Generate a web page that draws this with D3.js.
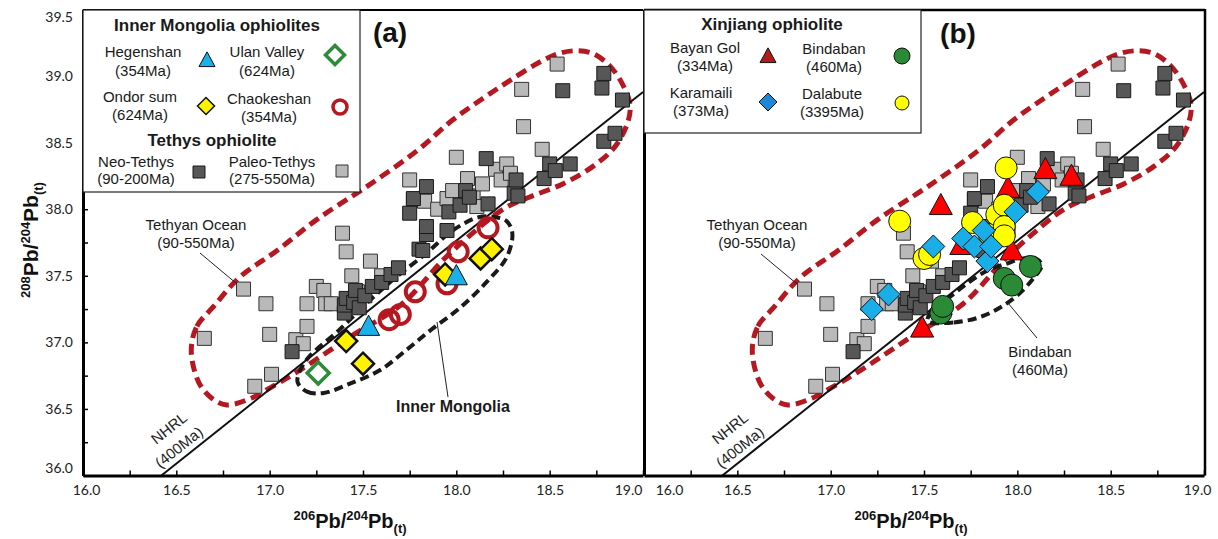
<!DOCTYPE html>
<html>
<head>
<meta charset="utf-8">
<script src="https://cdn.jsdelivr.net/npm/d3@7"></script>
<style>
  body { margin: 0; background: #fff; }
  svg { font-family: "Liberation Sans", Arial, sans-serif; }
  .tick text { font-family: Lato, "Liberation Sans", sans-serif; font-size: 14px; fill: #222; }
</style>
</head>
<body>
<svg width="1218" height="539"></svg>
<script>
// ---- Dados (206Pb/204Pb, 208Pb/204Pb)
const xTicks = [16, 16.25, 16.5, 16.75, 17, 17.25, 17.5, 17.75, 18, 18.25, 18.5, 18.75, 19];
const yTicks = [36, 36.25, 36.5, 36.75, 37, 37.25, 37.5, 37.75, 38, 38.25, 38.5, 38.75, 39, 39.25, 39.5];

const paleoTethys = [
  [16.65, 37.03], [16.86, 37.40], [16.92, 36.67], [16.98, 37.29], [17.00, 37.06], [17.01, 36.76],
  [17.14, 37.02], [17.18, 36.99], [17.20, 37.12], [17.20, 37.29], [17.25, 37.42], [17.29, 37.39],
  [17.30, 37.29], [17.33, 37.29], [17.39, 37.82], [17.41, 37.68], [17.44, 37.50], [17.47, 37.38],
  [17.54, 37.61], [17.60, 37.50], [17.75, 38.22], [17.77, 38.07], [17.83, 38.06], [17.90, 38.00],
  [17.95, 38.08], [17.98, 38.14], [18.00, 38.39], [18.06, 38.23], [18.09, 38.10], [18.11, 38.02],
  [18.14, 38.19], [18.21, 38.30], [18.24, 38.22], [18.27, 38.34], [18.29, 38.27], [18.35, 38.90],
  [18.36, 38.62], [18.46, 38.45], [18.54, 39.09]
];
const neoTethys = [
  [17.12, 36.93], [17.40, 37.22], [17.40, 37.28], [17.41, 37.33], [17.45, 37.30], [17.46, 37.39],
  [17.48, 37.26], [17.51, 37.35], [17.55, 37.42], [17.60, 37.45], [17.65, 37.51], [17.69, 37.56],
  [17.80, 37.70], [17.82, 37.69], [17.84, 37.81], [17.84, 37.87], [17.75, 37.97], [17.77, 38.08],
  [17.84, 38.17], [17.95, 37.84], [17.96, 37.98], [18.02, 38.03], [18.05, 38.14], [18.07, 38.09],
  [18.16, 38.38], [18.17, 38.04], [18.31, 38.12], [18.32, 38.22], [18.33, 38.10], [18.47, 38.23],
  [18.50, 38.34], [18.53, 38.29], [18.57, 38.89], [18.61, 38.34], [18.78, 38.91], [18.79, 38.51],
  [18.79, 39.02], [18.85, 38.57], [18.89, 38.82]
];

// Inner Mongolia
const hegenshan = [[17.53, 37.11], [18.00, 37.49]];
const ondorSum = [[17.41, 37.01], [17.50, 36.84], [17.94, 37.51], [18.13, 37.63], [18.19, 37.70]];
const ulanValley = [[17.26, 36.77]];
const chaokeshan = [[17.64, 37.17], [17.70, 37.21], [17.78, 37.38], [17.95, 37.44], [18.01, 37.68], [18.17, 37.86]];

// Xinjiang
const bayanGol = [[17.49, 37.10], [17.59, 38.02], [17.70, 37.72], [17.95, 38.15], [17.97, 37.68], [18.15, 38.29], [18.29, 38.24]];
const karamaili = [[17.22, 37.25], [17.31, 37.36], [17.55, 37.72], [17.71, 37.78], [17.77, 37.72], [17.82, 37.84],
  [17.84, 37.61], [17.86, 37.72], [17.99, 37.98], [18.11, 38.13]];
const dalabute = [[17.37, 37.91], [17.50, 37.63], [17.53, 37.66], [17.76, 37.90], [17.85, 37.81], [17.89, 37.96],
  [17.93, 38.03], [17.93, 37.87], [17.93, 37.80], [17.94, 38.31]];
const bindaban = [[17.59, 37.22], [17.60, 37.27], [17.93, 37.48], [17.97, 37.43], [18.07, 37.57]];

// Campos e linha de referência
const nhrl = [[16.42, 36.0], [19.0, 38.88]];
const tethyanField = [
  [16.58, 36.94], [16.61, 37.12], [16.70, 37.27], [16.84, 37.49], [17.04, 37.69], [17.25, 37.92],
  [17.52, 38.17], [17.79, 38.44], [17.98, 38.67], [18.14, 38.83], [18.28, 38.96], [18.44, 39.10],
  [18.55, 39.17], [18.64, 39.19], [18.73, 39.17], [18.82, 39.08], [18.89, 38.94], [18.93, 38.79],
  [18.92, 38.66], [18.85, 38.47], [18.73, 38.32], [18.57, 38.19], [18.39, 38.09], [18.25, 38.00],
  [18.07, 37.80], [17.93, 37.62], [17.71, 37.29], [17.43, 37.04], [17.16, 36.79], [16.98, 36.64],
  [16.90, 36.58], [16.77, 36.53], [16.69, 36.58], [16.62, 36.70]
];
const innerMongoliaField = [
  [17.15, 36.70], [17.20, 36.63], [17.29, 36.62], [17.43, 36.69], [17.59, 36.79], [17.73, 36.94],
  [17.87, 37.10], [18.02, 37.26], [18.16, 37.45], [18.27, 37.64], [18.30, 37.82], [18.27, 37.91],
  [18.21, 37.94], [18.12, 37.94], [17.98, 37.84], [17.84, 37.67], [17.66, 37.47], [17.54, 37.32],
  [17.37, 37.09], [17.21, 36.89], [17.16, 36.78]
];
const bindabanField = [
  [17.52, 37.16], [17.66, 37.15], [17.82, 37.20], [17.98, 37.33], [18.08, 37.47], [18.13, 37.58],
  [18.10, 37.63], [18.03, 37.63], [17.94, 37.59], [17.84, 37.54], [17.73, 37.44], [17.62, 37.32],
  [17.54, 37.23]
];

// ---- Escalas
const svg = d3.select('svg');
const y = d3.scaleLinear().domain([36, 39.5]).range([475.5, 9.5]);
const xA = d3.scaleLinear().domain([16, 19]).range([83, 643]);
const xB = d3.scaleLinear().domain([16, 19]).range([644, 1204]);

const shapes = {
  square: s => `M${-s / 2},${-s / 2}h${s}v${s}h${-s}Z`,
  triangle: s => { const h = s * 0.92; return `M0,${-h * 0.62}L${s / 2},${h * 0.38}L${-s / 2},${h * 0.38}Z`; },
  diamond: s => `M0,${-s / 2}L${s / 2},0L0,${s / 2}L${-s / 2},0Z`
};

function drawPaths(g, x, data, shape, size, fill, stroke, sw) {
  g.append('g').selectAll('path')
    .data(data)
    .join('path')
    .attr('transform', d => `translate(${x(d[0])},${y(d[1])})`)
    .attr('d', shapes[shape](size))
    .attr('fill', fill)
    .attr('stroke', stroke)
    .attr('stroke-width', sw);
}

function drawCircles(g, x, data, r, fill, stroke, sw) {
  g.append('g').selectAll('circle')
    .data(data)
    .join('circle')
    .attr('cx', d => x(d[0]))
    .attr('cy', d => y(d[1]))
    .attr('r', r)
    .attr('fill', fill)
    .attr('stroke', stroke)
    .attr('stroke-width', sw);
}

function drawField(g, x, pts, color, width, dash) {
  const line = d3.line().x(d => x(d[0])).y(d => y(d[1])).curve(d3.curveCatmullRomClosed.alpha(0.5));
  g.append('path')
    .attr('d', line(pts))
    .attr('fill', 'none')
    .attr('stroke', color)
    .attr('stroke-width', width)
    .attr('stroke-dasharray', dash);
}

const fmt = d => (Math.abs(d * 2 - Math.round(d * 2)) < 1e-6 ? d.toFixed(1) : '');

function xAxis(g, x, firstDx, lastDx) {
  const ax = g.append('g')
    .attr('transform', `translate(0, ${y(36)})`)
    .call(d3.axisBottom(x).tickValues(xTicks).tickSizeInner(-5).tickSizeOuter(0).tickPadding(10).tickFormat(fmt));
  ax.select('.domain').attr('stroke', '#000').attr('stroke-width', 3);
  ax.selectAll('.tick line').attr('stroke', '#000').attr('stroke-width', 1.5);
  ax.selectAll('.tick text').filter(d => d === 16).attr('dx', firstDx);
  ax.selectAll('.tick text').filter(d => d === 19).attr('dx', lastDx);
}

function nhrlLine(g, x) {
  g.append('line')
    .attr('x1', x(nhrl[0][0])).attr('y1', y(nhrl[0][1]))
    .attr('x2', x(nhrl[1][0])).attr('y2', y(nhrl[1][1]))
    .attr('stroke', '#111').attr('stroke-width', 2);
  const ang = Math.atan2(y(nhrl[1][1]) - y(nhrl[0][1]), x(nhrl[1][0]) - x(nhrl[0][0])) * 180 / Math.PI;
  // ponto de ancoragem sobre a linha
  const t0 = 16.543;
  const slope = (nhrl[1][1] - nhrl[0][1]) / (nhrl[1][0] - nhrl[0][0]);
  const y0 = nhrl[0][1] + (t0 - nhrl[0][0]) * slope;
  const t = g.append('g').attr('transform', `translate(${x(t0)},${y(y0)}) rotate(${ang})`);
  t.append('text').attr('x', 6).attr('y', -27).attr('text-anchor', 'middle')
    .style('font-size', '15px').attr('fill', '#222').text('NHRL');
  t.append('text').attr('x', 2).attr('y', -6).attr('text-anchor', 'middle')
    .style('font-size', '15px').attr('fill', '#222').text('(400Ma)');
}

function label(g, x, y0, lines, size, bold, lh) {
  lines.forEach((s, i) => {
    g.append('text')
      .attr('x', x).attr('y', y0 + i * lh)
      .attr('text-anchor', 'middle')
      .style('font-size', size + 'px')
      .style('font-weight', bold ? 'bold' : 'normal')
      .attr('fill', '#1a1a1a')
      .text(s);
  });
}

function leader(g, x1, y1, x2, y2) {
  g.append('line').attr('x1', x1).attr('y1', y1).attr('x2', x2).attr('y2', y2)
    .attr('stroke', '#222').attr('stroke-width', 1);
}

function axisTitle(g, tx, ty, rot, big, small, first) {
  const t = g.append('text')
    .attr('transform', `translate(${tx},${ty}) rotate(${rot})`)
    .attr('text-anchor', 'middle')
    .style('font-weight', 'bold')
    .attr('fill', '#111');
  t.append('tspan').style('font-size', small + 'px').attr('dy', -8).text(first);
  t.append('tspan').style('font-size', big + 'px').attr('dy', 8).text('Pb/');
  t.append('tspan').style('font-size', small + 'px').attr('dy', -8).text('204');
  t.append('tspan').style('font-size', big + 'px').attr('dy', 8).text('Pb');
  t.append('tspan').style('font-size', small + 'px').attr('dy', 5).text('(t)');
  return t;
}

svg.append('rect').attr('width', 1218).attr('height', 539).attr('fill', '#fff');

// ================= Painel (a)
const ga = svg.append('g');
drawField(ga, xA, tethyanField, '#b51820', 5, '11,6');
drawField(ga, xA, innerMongoliaField, '#1a1a1a', 4, '9,5');
nhrlLine(ga, xA);
drawPaths(ga, xA, paleoTethys, 'square', 14, '#b9b9b9', '#333', 1);
drawPaths(ga, xA, neoTethys, 'square', 14, '#575757', '#1a1a1a', 1);
drawCircles(ga, xA, chaokeshan, 9.5, 'none', '#b51820', 4);
drawPaths(ga, xA, ondorSum, 'diamond', 22, '#fff200', '#111', 2.5);
drawPaths(ga, xA, hegenshan, 'triangle', 22, '#1ab0ea', '#111', 1);
drawPaths(ga, xA, ulanValley, 'diamond', 22, '#fff', '#2d8a38', 3.5);

label(ga, 196, 230, ['Tethyan Ocean', '(90-550Ma)'], 15, false, 18);
leader(ga, 200, 253, 237, 284);
label(ga, 453, 412, ['Inner Mongolia'], 16, true, 18);
leader(ga, 448, 397, 437, 322);

// eixos (a)
xAxis(ga, xA, 3, -15);
const ya = ga.append('g')
  .attr('transform', `translate(${xA(16)},0)`)
  .call(d3.axisLeft(y).tickValues(yTicks).tickSizeInner(-5).tickSizeOuter(0).tickPadding(10).tickFormat(fmt));
ya.select('.domain').attr('stroke', '#000').attr('stroke-width', 3);
ya.selectAll('.tick line').attr('stroke', '#000').attr('stroke-width', 1.5);
ya.selectAll('.tick text').filter(d => d === 36).attr('dy', '-0.2em');
ya.selectAll('.tick text').filter(d => d === 39.5).attr('dy', '0.85em');
ga.append('line').attr('x1', xA(16)).attr('x2', xA(19)).attr('y1', 10).attr('y2', 10)
  .attr('stroke', '#000').attr('stroke-width', 2);

axisTitle(ga, 38, 240, -90, 21, 13, '208');
axisTitle(ga, 350, 528, 0, 20, 13, '206');

// legenda (a)
ga.append('rect').attr('x', 83).attr('y', 10).attr('width', 277).attr('height', 182)
  .attr('fill', '#fff').attr('stroke', '#222').attr('stroke-width', 1.2);
label(ga, 217, 31, ['Inner Mongolia ophiolites'], 17, true, 0);
label(ga, 143, 57, ['Hegenshan', '(354Ma)'], 15, false, 19);
label(ga, 267, 57, ['Ulan Valley', '(624Ma)'], 15, false, 19);
label(ga, 140, 102, ['Ondor sum', '(624Ma)'], 15, false, 18);
label(ga, 269, 104, ['Chaokeshan', '(354Ma)'], 15, false, 18);
label(ga, 212, 146, ['Tethys ophiolite'], 17, true, 0);
label(ga, 136, 167, ['Neo-Tethys', '(90-200Ma)'], 15, false, 17);
label(ga, 272, 167, ['Paleo-Tethys', '(275-550Ma)'], 15, false, 17);
ga.append('path').attr('transform', 'translate(207,61)').attr('d', shapes.triangle(16))
  .attr('fill', '#1ab0ea').attr('stroke', '#111').attr('stroke-width', 1);
ga.append('path').attr('transform', 'translate(335,55)').attr('d', shapes.diamond(19))
  .attr('fill', '#fff').attr('stroke', '#2d8a38').attr('stroke-width', 3.5);
ga.append('path').attr('transform', 'translate(206,106)').attr('d', shapes.diamond(17))
  .attr('fill', '#fff200').attr('stroke', '#111').attr('stroke-width', 1.5);
ga.append('circle').attr('cx', 340).attr('cy', 107).attr('r', 7)
  .attr('fill', 'none').attr('stroke', '#b51820').attr('stroke-width', 3.5);
ga.append('path').attr('transform', 'translate(199,172)').attr('d', shapes.square(12))
  .attr('fill', '#575757').attr('stroke', '#1a1a1a').attr('stroke-width', 1);
ga.append('path').attr('transform', 'translate(342,171)').attr('d', shapes.square(12))
  .attr('fill', '#b9b9b9').attr('stroke', '#333').attr('stroke-width', 1);

ga.append('text').attr('x', 390).attr('y', 42).attr('text-anchor', 'middle')
  .style('font-size', '28px').style('font-weight', 'bold').attr('fill', '#111').text('(a)');

// ================= Painel (b)
const gb = svg.append('g');
drawField(gb, xB, tethyanField, '#b51820', 5, '11,6');
drawField(gb, xB, bindabanField, '#1a1a1a', 4, '9,5');
nhrlLine(gb, xB);
drawPaths(gb, xB, paleoTethys, 'square', 14, '#b9b9b9', '#333', 1);
drawPaths(gb, xB, neoTethys, 'square', 14, '#575757', '#1a1a1a', 1);
drawPaths(gb, xB, bayanGol, 'triangle', 23, '#ff0000', '#111', 1);
drawCircles(gb, xB, dalabute, 11, '#ffff00', '#111', 1);
drawPaths(gb, xB, karamaili, 'diamond', 23, '#19aee8', '#111', 1);
drawCircles(gb, xB, bindaban, 11, '#2a8a35', '#111', 1);

label(gb, 757, 230, ['Tethyan Ocean', '(90-550Ma)'], 15, false, 18);
leader(gb, 761, 254, 797, 284);
label(gb, 1040, 357, ['Bindaban', '(460Ma)'], 15, false, 18);
leader(gb, 1037, 338, 1008, 303);

xAxis(gb, xB, 25, -7);
const yb = gb.append('g')
  .attr('transform', `translate(${xB(16)},0)`)
  .call(d3.axisLeft(y).tickValues([]).tickSizeOuter(0));
yb.select('.domain').attr('stroke', '#000').attr('stroke-width', 3);
gb.append('line').attr('x1', xB(16)).attr('x2', 1205).attr('y1', 10).attr('y2', 10)
  .attr('stroke', '#000').attr('stroke-width', 2.5);
gb.append('line').attr('x1', 1205).attr('x2', 1205).attr('y1', 9).attr('y2', y(36))
  .attr('stroke', '#000').attr('stroke-width', 2.5);

axisTitle(gb, 911, 528, 0, 20, 13, '206');

// legenda (b)
gb.append('rect').attr('x', 644).attr('y', 10).attr('width', 277).attr('height', 123)
  .attr('fill', '#fff').attr('stroke', '#222').attr('stroke-width', 1.2);
label(gb, 772, 30, ['Xinjiang ophiolite'], 17, true, 0);
label(gb, 705, 53, ['Bayan Gol', '(334Ma)'], 15, false, 18);
label(gb, 834, 54, ['Bindaban', '(460Ma)'], 15, false, 18);
label(gb, 701, 98, ['Karamaili', '(373Ma)'], 15, false, 18);
label(gb, 832, 99, ['Dalabute', '(3395Ma)'], 15, false, 18);
gb.append('path').attr('transform', 'translate(768,57)').attr('d', shapes.triangle(16))
  .attr('fill', '#b01c1c').attr('stroke', '#111').attr('stroke-width', 1);
gb.append('circle').attr('cx', 902).attr('cy', 56).attr('r', 8)
  .attr('fill', '#2a8a35').attr('stroke', '#111').attr('stroke-width', 1);
gb.append('path').attr('transform', 'translate(768,102)').attr('d', shapes.diamond(18))
  .attr('fill', '#1e88d8').attr('stroke', '#111').attr('stroke-width', 1);
gb.append('circle').attr('cx', 902).attr('cy', 103).attr('r', 7)
  .attr('fill', '#ffff00').attr('stroke', '#111').attr('stroke-width', 1);

gb.append('text').attr('x', 958).attr('y', 43).attr('text-anchor', 'middle')
  .style('font-size', '28px').style('font-weight', 'bold').attr('fill', '#111').text('(b)');
</script>
</body>
</html>
